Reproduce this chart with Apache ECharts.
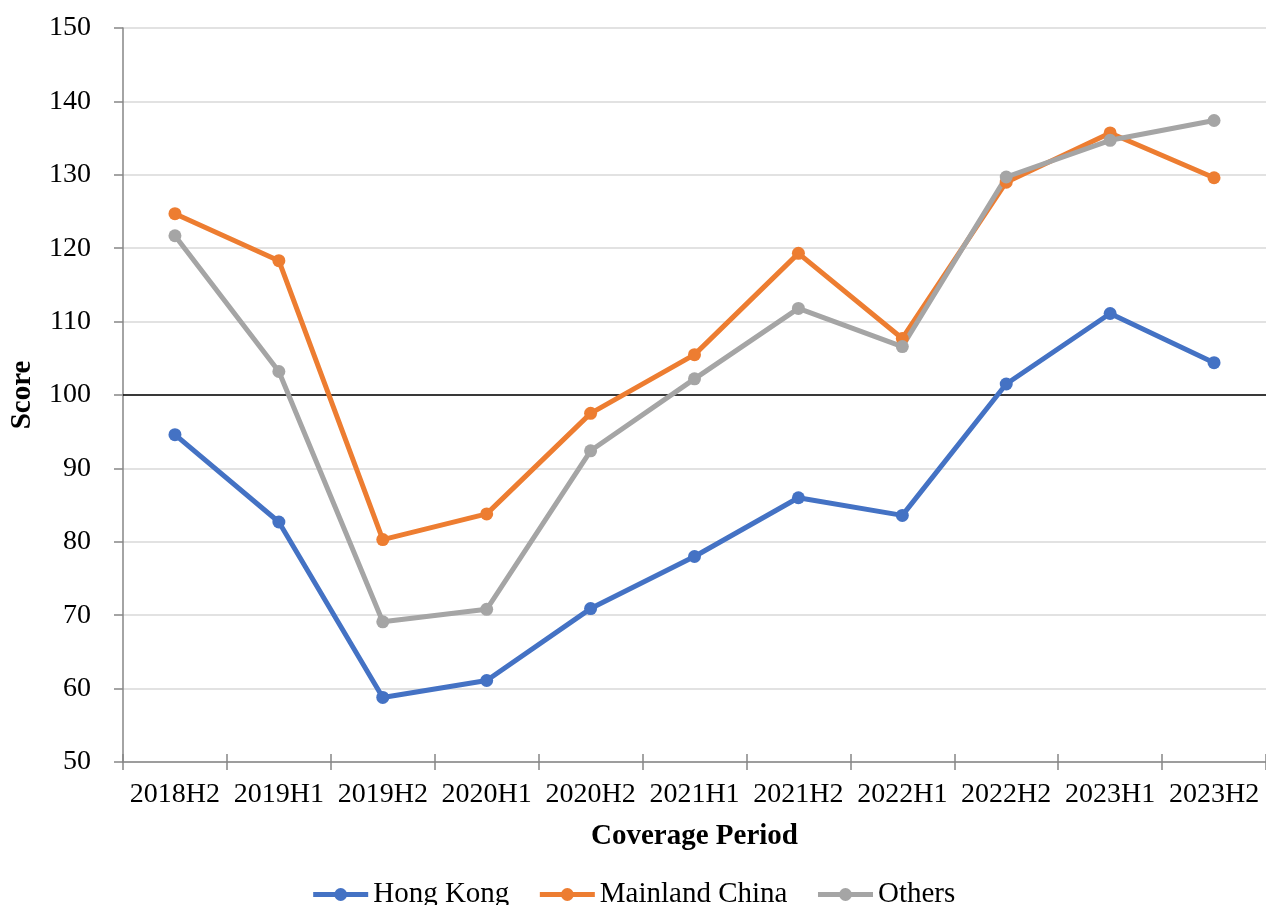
<!DOCTYPE html>
<html>
<head>
<meta charset="utf-8">
<script src="https://cdn.jsdelivr.net/npm/echarts@6/dist/echarts.min.js"></script>
<style>
    html, body { margin: 0; padding: 0; background: #fff; }
    #chart { width: 1266px; height: 905px; }
</style>
</head>
<body>
<div id="chart"></div>
<script>
    // 数据
    var periods = ['2018H2', '2019H1', '2019H2', '2020H1', '2020H2', '2021H1', '2021H2', '2022H1', '2022H2', '2023H1', '2023H2'];
    var hongKong = [94.6, 82.7, 58.8, 61.1, 70.9, 78.0, 86.0, 83.6, 101.5, 111.1, 104.4];
    var mainlandChina = [124.7, 118.3, 80.3, 83.8, 97.5, 105.5, 119.3, 107.7, 129.0, 135.7, 129.6];
    var others = [121.7, 103.2, 69.1, 70.8, 92.4, 102.2, 111.8, 106.6, 129.7, 134.7, 137.4];
    var yTicks = { min: 50, max: 150, interval: 10 };
    var baseline = 100;

    var font = '"Liberation Serif", "Times New Roman", serif';

    function lineSeries(name, data, color) {
        return {
            name: name,
            type: 'line',
            data: data,
            symbol: 'circle',
            symbolSize: 13,
            lineStyle: { width: 5, color: color },
            itemStyle: { color: color },
            z: 3
        };
    }

    var series = [
        lineSeries('Hong Kong', hongKong, '#4472C4'),
        lineSeries('Mainland China', mainlandChina, '#ED7D31'),
        lineSeries('Others', others, '#A5A5A5')
    ];
    // 100 基准线
    series[0].markLine = {
        silent: true,
        symbol: 'none',
        label: { show: false },
        lineStyle: { color: '#000', width: 1.5, type: 'solid' },
        data: [{ yAxis: baseline }],
        z: 2
    };

    var chart = echarts.init(document.getElementById('chart'));
    chart.setOption({
        animation: false,
        textStyle: { fontFamily: font },
        grid: { left: 122, right: 0, top: 28, bottom: 143 },
        legend: {
            bottom: -9,
            left: 'center',
            itemWidth: 55,
            itemHeight: 16,
            itemGap: 28,
            lineStyle: { width: 5 },
            textStyle: { fontFamily: font, fontSize: 29, color: '#000' },
            data: ['Hong Kong', 'Mainland China', 'Others']
        },
        xAxis: [{
            type: 'category',
            data: periods,
            boundaryGap: true,
            name: 'Coverage Period',
            nameLocation: 'middle',
            nameGap: 60,
            nameTextStyle: { fontFamily: font, fontSize: 29, fontWeight: 'bold', color: '#000' },
            axisLine: { lineStyle: { color: '#868686', width: 1.5 } },
            axisTick: { show: true, length: 8, lineStyle: { color: '#868686', width: 1.5 } },
            axisLabel: { fontFamily: font, fontSize: 28, color: '#000', margin: 19, interval: 0 },
            splitLine: { show: false }
        }, {
            // 用于画轴内侧的刻度
            type: 'category',
            data: periods,
            position: 'bottom',
            boundaryGap: true,
            axisLine: { show: false },
            axisTick: { show: true, inside: true, length: 8, lineStyle: { color: '#868686', width: 1.5 } },
            axisLabel: { show: false },
            splitLine: { show: false }
        }],
        yAxis: {
            type: 'value',
            min: yTicks.min,
            max: yTicks.max,
            interval: yTicks.interval,
            name: 'Score',
            nameLocation: 'middle',
            nameGap: 86,
            nameTextStyle: { fontFamily: font, fontSize: 29, fontWeight: 'bold', color: '#000' },
            axisLine: { show: true, lineStyle: { color: '#868686', width: 1.5 } },
            axisTick: { show: true, length: 9, lineStyle: { color: '#868686', width: 1.5 } },
            axisLabel: { fontFamily: font, fontSize: 28, color: '#000', margin: 32 },
            splitLine: { lineStyle: { color: '#D9D9D9', width: 1.5 } }
        },
        series: series
    });
</script>
</body>
</html>
